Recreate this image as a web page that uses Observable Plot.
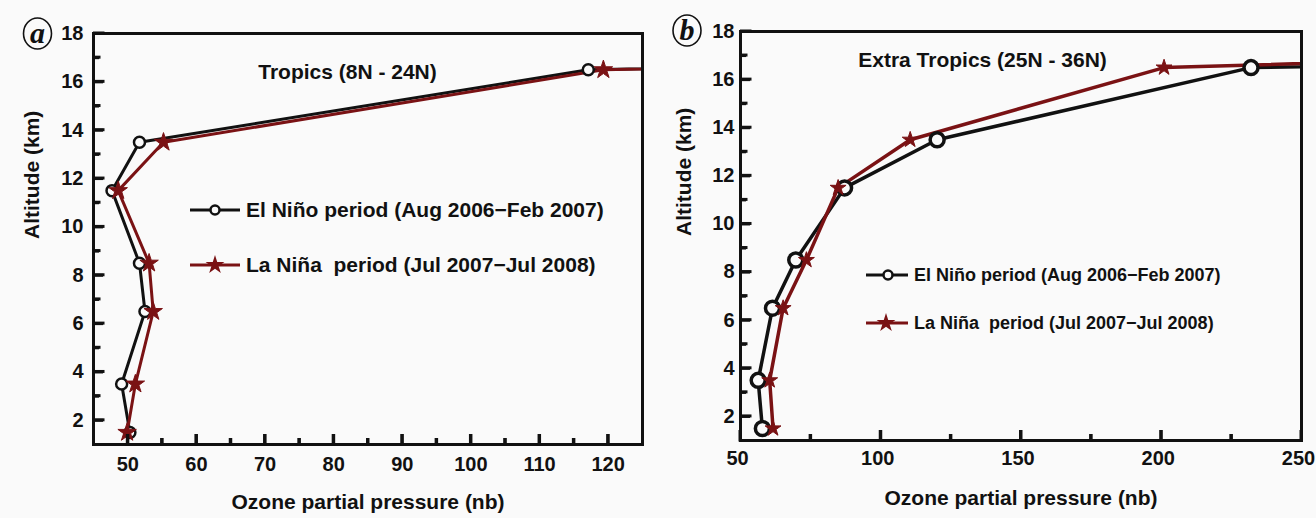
<!DOCTYPE html>
<html><head><meta charset="utf-8">
<script src="https://cdn.jsdelivr.net/npm/d3@7"></script>
<script src="https://cdn.jsdelivr.net/npm/@observablehq/plot@0.6"></script>
<style>
body{margin:0;background:#fafafa;}
#wrap{position:relative;width:1316px;height:518px;overflow:hidden;font-family:"Liberation Sans",Arial,sans-serif;font-weight:bold;color:#111;}
.panel{position:absolute;top:0;width:658px;height:518px;}
.ov{position:absolute;left:0;top:0;pointer-events:none;}
</style></head><body><div id="wrap"></div>
<script>
// ---- data ----
const altitudes = [1.5, 3.5, 6.5, 8.5, 11.5, 13.5, 16.5, 17.5];
const tropicsElNino = [50.3, 49.1, 52.5, 51.7, 47.7, 51.7, 117.1, 290];
const tropicsLaNina = [49.9, 51.1, 53.7, 53.1, 48.6, 55.2, 119.3, 290];
const extraElNino = [57.8, 56.3, 61.4, 69.7, 87.1, 120.1, 232, 700];
const extraLaNina = [61.6, 60.4, 65.2, 73.5, 84.8, 110.5, 201, 490];

const yTicks = [2, 4, 6, 8, 10, 12, 14, 16, 18];
const yMinorTicks = [3, 5, 7, 9, 11, 13, 15, 17];
const xTicksA = [50, 60, 70, 80, 90, 100, 110, 120];
const xMinorA = [55, 65, 75, 85, 95, 105, 115];
const xTicksB = [50, 100, 150, 200, 250];
const xMinorB = [75, 125, 175, 225];

const seriesNames = ["El Niño period (Aug 2006\u2212Feb 2007)", "La Niña  period (Jul 2007\u2212Jul 2008)"];
const titles = ["Tropics (8N - 24N)", "Extra Tropics (25N - 36N)"];
const xLabel = "Ozone partial pressure (nb)";
const yLabel = "Altitude (km)";
const panelLetters = ["a", "b"];

const RED = "#7a1214";
const BLACK = "#111111";
const FONT = "'Liberation Sans', Arial, sans-serif";

function rows(vals) { return altitudes.map((a, i) => ({alt: a, v: vals[i]})); }

const wrap = document.getElementById("wrap");
const W = 658, H = 518;

function makePanel(cfg) {
  const el = rows(cfg.el), la = rows(cfg.la);
  const iw = W - cfg.ml - cfg.mr, ih = H - cfg.mt - cfg.mb;
  const p = Plot.plot({
    width: W, height: H,
    marginLeft: cfg.ml, marginRight: cfg.mr, marginTop: cfg.mt, marginBottom: cfg.mb,
    x: {domain: cfg.xDomain},
    y: {domain: [1, 18]},
    style: {background: "transparent", fontFamily: FONT, fontWeight: "bold", fontSize: "20px", color: BLACK},
    marks: [
      Plot.line(el, {x: "v", y: "alt", stroke: BLACK, strokeWidth: cfg.lw, clip: true}),
      Plot.line(la, {x: "v", y: "alt", stroke: RED, strokeWidth: cfg.lw, clip: true}),
      Plot.dot(el, {x: "v", y: "alt", r: cfg.cr, stroke: BLACK, strokeWidth: cfg.csw, fill: "#fafafa", clip: true}),
      Plot.dot(la, {x: "v", y: "alt", r: cfg.sr, symbol: "star", fill: RED, stroke: RED, strokeWidth: 1, clip: true}),
      // inward ticks (left and bottom only)
      Plot.tickY(yTicks, {y: d => d, insetRight: iw - 10, stroke: BLACK, strokeWidth: 3}),
      Plot.tickY(yMinorTicks, {y: d => d, insetRight: iw - 6, stroke: BLACK, strokeWidth: 3}),
      Plot.tickX(cfg.xTicks, {x: d => d, insetTop: ih - 10, stroke: BLACK, strokeWidth: 3}),
      Plot.tickX(cfg.xMinor, {x: d => d, insetTop: ih - 6, stroke: BLACK, strokeWidth: 3}),
      Plot.axisY(yTicks, {tickSize: 0, tickPadding: cfg.ytp, fontSize: 20, fontWeight: "bold", label: null}),
      Plot.axisX(cfg.xTicks, {tickSize: 0, tickPadding: cfg.xtp, dx: cfg.xldx, fontSize: 20, fontWeight: "bold", label: null}),
      Plot.frame({stroke: BLACK, strokeWidth: 3}),
      Plot.text([cfg.title], {frameAnchor: "top-left", dx: cfg.tdx, dy: cfg.tdy, text: d => d, fontSize: 21, fontWeight: "bold", textAnchor: "middle", lineAnchor: "middle"}),
      Plot.text([xLabel], {frameAnchor: "bottom", dy: cfg.xldy, text: d => d, fontSize: 21, fontWeight: "bold", lineAnchor: "middle"}),
      Plot.text([yLabel], {frameAnchor: "left", dx: cfg.yldx, text: d => d, fontSize: 21, fontWeight: "bold", rotate: -90, lineAnchor: "middle"})
    ]
  });
  p.style.width = W + "px";
  p.style.height = H + "px";
  p.style.maxWidth = "none";
  const div = document.createElement("div");
  div.className = "panel";
  div.style.left = cfg.left + "px";
  div.appendChild(p);
  wrap.appendChild(div);
  return {p, cfg};
}

const panels = [
  makePanel({left: 0, el: tropicsElNino, la: tropicsLaNina, xDomain: [45, 125], xTicks: xTicksA, xMinor: xMinorA,
    ml: 93, mr: 16, mt: 33, mb: 74, lw: 3, cr: 5.5, csw: 2.5, sr: 5.8, ytp: 10, xtp: 12, xldx: 0,
    title: titles[0], tdx: 254, tdy: 39, xldy: 58, yldx: -61}),
  makePanel({left: 658, el: extraElNino, la: extraLaNina, xDomain: [50, 250], xTicks: xTicksB, xMinor: xMinorB,
    ml: 82, mr: 15, mt: 31, mb: 78, lw: 3.5, cr: 7, csw: 3.5, sr: 5, ytp: 6, xtp: 10, xldx: -3,
    title: titles[1], tdx: 242, tdy: 29, xldy: 58, yldx: -56})
];

// ---- overlay: legends, panel letters, and inward ticks placed with each plot's own scales ----
const svg = d3.select(wrap).append("svg").attr("class", "ov").attr("width", 1316).attr("height", 518)
  .style("font-family", FONT).style("font-weight", "bold");

function legendRow(x1, x2, mx, y, tx, fs, kind, label) {
  const g = svg.append("g");
  const col = kind === "circle" ? BLACK : RED;
  g.append("line").attr("x1", x1).attr("x2", x2).attr("y1", y).attr("y2", y).attr("stroke", col).attr("stroke-width", 3);
  if (kind === "circle") {
    g.append("circle").attr("cx", mx).attr("cy", y).attr("r", 4.5).attr("fill", "#fafafa").attr("stroke", BLACK).attr("stroke-width", 2.5);
  } else {
    g.append("path").attr("transform", `translate(${mx},${y})`).attr("d", d3.symbol(d3.symbolStar, 110)()).attr("fill", RED);
  }
  g.append("text").attr("x", tx).attr("y", y).attr("dy", "0.35em").attr("font-size", fs).attr("fill", BLACK)
    .style("white-space", "pre").text(label);
}
legendRow(190, 240, 215, 210, 246, 21, "circle", seriesNames[0]);
legendRow(190, 240, 215, 265, 246, 21, "star", seriesNames[1]);
legendRow(866, 908, 888, 275, 914, 18, "circle", seriesNames[0]);
legendRow(866, 908, 886, 323, 914, 18, "star", seriesNames[1]);

function letter(cx, cy, t) {
  svg.append("ellipse").attr("cx", cx).attr("cy", cy).attr("rx", 14).attr("ry", 15.5).attr("fill", "none").attr("stroke", BLACK).attr("stroke-width", 1.6);
  svg.append("text").attr("x", cx).attr("y", cy).attr("dy", "0.33em").attr("text-anchor", "middle")
    .attr("font-family", "'Liberation Serif', 'Times New Roman', serif").attr("font-style", "italic").attr("font-weight", "bold")
    .attr("font-size", 30).attr("fill", BLACK).text(t);
}
letter(37.5, 33.5, panelLetters[0]);
letter(687, 30.5, panelLetters[1]);

try {
  for (const {p, cfg} of panels) {
    const xs = p.scale("x"), ys = p.scale("y");
    const sx = d3.scaleLinear(xs.domain, xs.range), sy = d3.scaleLinear(ys.domain, ys.range);
    const left = cfg.left + cfg.ml, bottom = H - cfg.mb;
    const yt = [...yTicks.map(v => [v, 10]), ...yMinorTicks.map(v => [v, 6])];
    for (const [v, len] of yt) {
      svg.append("rect").attr("x", left).attr("y", sy(v) - 1.5).attr("width", len + 1.5).attr("height", 3).attr("fill", BLACK);
    }
    const xt = [...cfg.xTicks.map(v => [v, 10]), ...cfg.xMinor.map(v => [v, 6])];
    for (const [v, len] of xt) {
      svg.append("rect").attr("x", cfg.left + sx(v) - 1.5).attr("y", bottom - len).attr("width", 3).attr("height", len + 1.5).attr("fill", BLACK);
    }
  }
} catch (e) {}
</script></body></html>
